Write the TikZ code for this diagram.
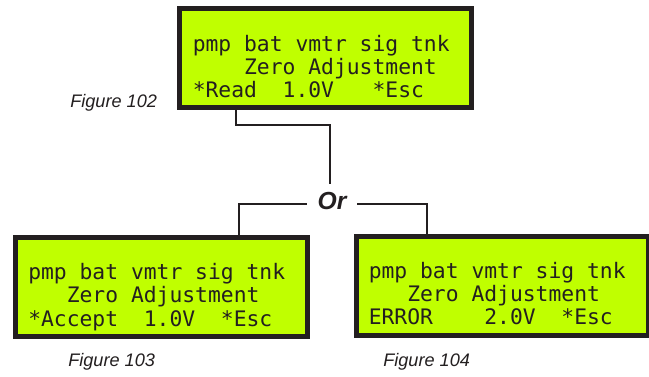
\documentclass[tikz,border=0pt]{standalone}
\usepackage{fontspec}
\setmainfont{Liberation Sans}
\newfontfamily\lcdfont{DejaVu Sans Mono}
\usetikzlibrary{calc}
\definecolor{lcdgreen}{RGB}{192,255,0}
\definecolor{dark}{RGB}{35,31,32}
\begin{document}
\frenchspacing
\begin{tikzpicture}[x=0.75pt,y=-0.75pt,
  lcdbox/.style={draw=dark, line width=3.75pt, fill=lcdgreen, minimum width=219pt, minimum height=74.25pt, inner sep=0pt},
  lcdline/.style={anchor=base west, inner sep=0pt, text=dark, font=\lcdfont\fontsize{16pt}{19pt}\selectfont},
  caption/.style={anchor=base west, inner sep=0pt, text=dark, font=\itshape\fontsize{13.6pt}{15pt}\selectfont},
  conn/.style={draw=dark, line width=1.4pt},
  orlabel/.style={text=dark, inner xsep=8pt, inner ysep=6.5pt, font=\bfseries\itshape\fontsize{18.5pt}{20pt}\selectfont}]
\useasboundingbox (0,0) rectangle (649,377);
\fill[white] (0,0) rectangle (649,377);

% boxes
\node[lcdbox] (top) at (325.5,58) {};
\node[lcdbox] (left) at (161,287) {};
\node[lcdbox] (right) at (502.5,286) {};

% top display
\node[lcdline] (top1) at ($(top.center)+(-133,-6)$) {pmp bat vmtr sig tnk};
\node[lcdline] (top2) at ($(top.center)+(-133,17)$) {~~~~Zero Adjustment};
\node[lcdline] (top3) at ($(top.center)+(-133,40)$) {*Read~~1.0V~~~*Esc};

% left display
\node[lcdline] (left1) at ($(left.center)+(-133,-7)$) {pmp bat vmtr sig tnk};
\node[lcdline] (left2) at ($(left.center)+(-133,16)$) {~~~Zero Adjustment};
\node[lcdline] (left3) at ($(left.center)+(-133,39)$) {*Accept~~1.0V~~*Esc};

% right display
\node[lcdline] (right1) at ($(right.center)+(-134,-7)$) {pmp bat vmtr sig tnk};
\node[lcdline] (right2) at ($(right.center)+(-134,16)$) {~~~Zero Adjustment};
\node[lcdline] (right3) at ($(right.center)+(-134,39)$) {ERROR~~~~2.0V~~*Esc};

% Or
\node[orlabel] (or) at (332,201.5) {Or};

% connectors
\coordinate (j1) at (330,125);
\draw[conn] ([xshift=-67.1pt]top.south) |- (j1) -- (j1 |- or.north);
\draw[conn] ([yshift=-1.9pt]or.west) -| ([xshift=58.5pt]left.north);
\draw[conn] ([yshift=-1.9pt]or.east) -| ([xshift=-56.6pt]right.north);

% captions
\node[caption] (f102) at (70,108) {Figure 102};
\node[caption] (f103) at (68,366) {Figure 103};
\node[caption] (f104) at (383,366) {Figure 104};
\end{tikzpicture}
\end{document}
